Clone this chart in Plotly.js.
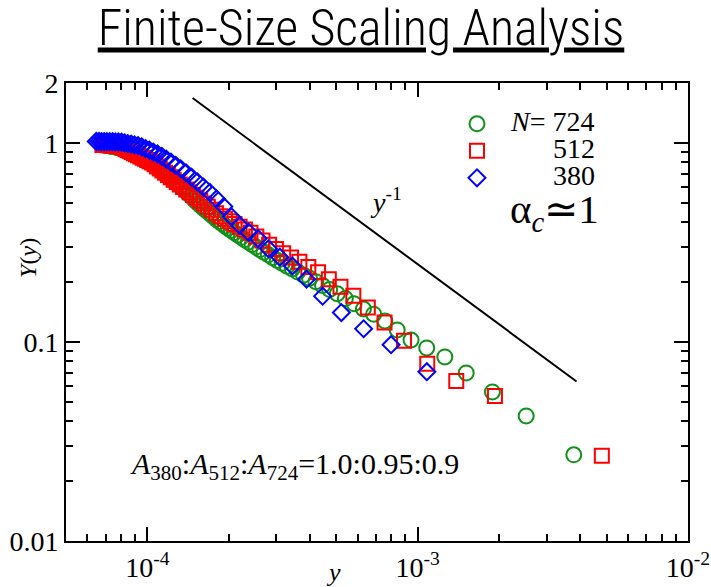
<!DOCTYPE html>
<html>
<head>
<meta charset="utf-8">
<script src="https://cdn.plot.ly/plotly-3.0.1.min.js"></script>
<style>html,body{margin:0;padding:0;background:#fff;}#chart{width:711px;height:587px;}</style>
</head>
<body>
<div id="chart"></div>
<script>
// N = 724 (green circles)
const greenX = [3.78e-3, 2.52e-3, 1.89e-3, 1.512e-3, 1.26e-3, 1.08e-3, 9.45e-4, 8.40e-4, 7.56e-4, 6.873e-4,
  6.30e-4, 5.815e-4, 5.40e-4, 5.04e-4, 4.725e-4, 4.447e-4, 4.20e-4, 3.979e-4, 3.78e-4, 3.60e-4,
  3.436e-4, 3.287e-4, 3.15e-4, 3.024e-4, 2.908e-4, 2.80e-4, 2.70e-4, 2.607e-4, 2.52e-4, 2.439e-4,
  2.363e-4, 2.291e-4, 2.224e-4, 2.16e-4, 2.10e-4, 2.043e-4, 1.989e-4, 1.938e-4, 1.89e-4, 1.844e-4,
  1.80e-4, 1.758e-4, 1.718e-4, 1.680e-4, 1.643e-4, 1.609e-4, 1.575e-4, 1.543e-4, 1.512e-4, 1.482e-4,
  1.454e-4, 1.426e-4, 1.40e-4, 1.375e-4, 1.35e-4, 1.326e-4, 1.303e-4, 1.281e-4, 1.26e-4, 1.239e-4,
  1.219e-4, 1.200e-4, 1.181e-4, 1.163e-4, 1.145e-4, 1.128e-4, 1.112e-4, 1.096e-4, 1.08e-4, 1.065e-4,
  1.050e-4, 1.036e-4, 1.022e-4, 1.008e-4, 9.95e-5, 9.82e-5, 9.69e-5, 9.57e-5, 9.45e-5, 9.33e-5,
  9.22e-5, 9.11e-5, 9.00e-5, 8.89e-5, 8.79e-5, 8.69e-5, 8.59e-5, 8.49e-5, 8.40e-5, 8.31e-5,
  8.22e-5, 8.13e-5, 8.04e-5, 7.96e-5, 7.875e-5, 7.79e-5, 7.71e-5, 7.64e-5, 7.56e-5, 7.49e-5,
  7.41e-5, 7.34e-5, 7.27e-5, 7.20e-5, 7.13e-5, 7.07e-5, 7.00e-5, 6.94e-5];
const greenY = [0.0271, 0.0425, 0.0561, 0.0699, 0.0841, 0.0933, 0.1023, 0.1149, 0.1275, 0.1379,
  0.1464, 0.1556, 0.1652, 0.1747, 0.1836, 0.1922, 0.2009, 0.2090, 0.2169, 0.2245,
  0.2327, 0.2403, 0.2483, 0.2565, 0.2653, 0.2740, 0.2827, 0.2913, 0.2998, 0.3086,
  0.3177, 0.3266, 0.3354, 0.3444, 0.3533, 0.3634, 0.3731, 0.3827, 0.3926, 0.4027,
  0.4141, 0.4257, 0.4372, 0.4485, 0.4601, 0.4715, 0.4830, 0.4966, 0.5099, 0.5245,
  0.5377, 0.5524, 0.5667, 0.5805, 0.5955, 0.6102, 0.6230, 0.6353, 0.6480, 0.6601,
  0.6723, 0.6850, 0.6985, 0.7109, 0.7234, 0.7367, 0.7489, 0.7585, 0.7681, 0.7781,
  0.7880, 0.7980, 0.8073, 0.8176, 0.8263, 0.8358, 0.8454, 0.8544, 0.8643, 0.8723,
  0.8773, 0.8823, 0.8875, 0.8928, 0.8982, 0.9023, 0.9074, 0.9127, 0.9170, 0.9222,
  0.9276, 0.9318, 0.9363, 0.9417, 0.9449, 0.9482, 0.9504, 0.9526, 0.9559, 0.9581,
  0.9603, 0.9636, 0.9659, 0.9681, 0.9714, 0.9737, 0.9759, 0.9770];

// N = 512 (red squares)
const redX = [4.80e-3, 1.931e-3, 1.389e-3, 1.085e-3, 8.90e-4, 7.54e-4, 6.54e-4, 5.78e-4, 5.18e-4, 4.69e-4,
  4.28e-4, 3.94e-4, 3.65e-4, 3.40e-4, 3.18e-4, 2.99e-4, 2.82e-4, 2.667e-4, 2.53e-4, 2.407e-4,
  2.296e-4, 2.194e-4, 2.101e-4, 2.015e-4, 1.936e-4, 1.864e-4, 1.796e-4, 1.733e-4, 1.674e-4, 1.620e-4,
  1.568e-4, 1.520e-4, 1.475e-4, 1.432e-4, 1.392e-4, 1.354e-4, 1.318e-4, 1.284e-4, 1.251e-4, 1.220e-4,
  1.191e-4, 1.163e-4, 1.136e-4, 1.111e-4, 1.086e-4, 1.063e-4, 1.041e-4, 1.019e-4, 9.99e-5, 9.79e-5,
  9.60e-5, 9.42e-5, 9.24e-5, 9.07e-5, 8.91e-5, 8.75e-5, 8.60e-5, 8.45e-5, 8.31e-5, 8.17e-5,
  8.04e-5, 7.91e-5, 7.79e-5, 7.67e-5, 7.55e-5, 7.44e-5, 7.33e-5, 7.22e-5, 7.12e-5, 7.02e-5,
  6.92e-5, 6.82e-5];
const redY = [0.0268, 0.0535, 0.0636, 0.0778, 0.1014, 0.1254, 0.1491, 0.1705, 0.1894, 0.2066,
  0.2237, 0.2380, 0.2526, 0.2659, 0.2794, 0.2933, 0.3079, 0.3236, 0.3390, 0.3541,
  0.3675, 0.3797, 0.3917, 0.4036, 0.4154, 0.4277, 0.4438, 0.4611, 0.4785, 0.4960,
  0.5129, 0.5303, 0.5479, 0.5652, 0.5832, 0.6004, 0.6187, 0.6361, 0.6540, 0.6723,
  0.6898, 0.7075, 0.7268, 0.7436, 0.7620, 0.7808, 0.7970, 0.8092, 0.8205, 0.8320,
  0.8435, 0.8545, 0.8663, 0.8773, 0.8886, 0.9000, 0.9106, 0.9222, 0.9329, 0.9438,
  0.9530, 0.9610, 0.9650, 0.9681, 0.9692, 0.9703, 0.9714, 0.9726, 0.9737, 0.9748,
  0.9759, 0.9770];

// N = 380 (blue diamonds)
const blueX = [1.081e-3, 7.97e-4, 6.31e-4, 5.22e-4, 4.45e-4, 3.88e-4, 3.44e-4, 3.09e-4, 2.805e-4, 2.567e-4,
  2.367e-4, 2.195e-4, 2.047e-4, 1.918e-4, 1.803e-4, 1.702e-4, 1.612e-4, 1.530e-4, 1.457e-4, 1.390e-4,
  1.329e-4, 1.273e-4, 1.222e-4, 1.174e-4, 1.131e-4, 1.090e-4, 1.052e-4, 1.017e-4, 9.84e-5, 9.53e-5,
  9.24e-5, 8.96e-5, 8.71e-5, 8.46e-5, 8.23e-5, 8.02e-5, 7.81e-5, 7.61e-5, 7.43e-5, 7.25e-5,
  7.08e-5, 6.92e-5, 6.76e-5, 6.62e-5, 6.47e-5];
const blueY = [0.0709, 0.0969, 0.1165, 0.1405, 0.1699, 0.2066, 0.2408, 0.2665, 0.2940, 0.3309,
  0.3562, 0.3858, 0.4251, 0.4791, 0.5233, 0.5641, 0.6004, 0.6376, 0.6731, 0.7075,
  0.7418, 0.7717, 0.7999, 0.8291, 0.8563, 0.8805, 0.9000, 0.9190, 0.9373, 0.9559,
  0.9692, 0.9783, 0.9851, 0.9931, 1.001, 1.008, 1.012, 1.013, 1.014, 1.015,
  1.015, 1.016, 1.016, 1.017, 1.017];

// guide line y^-1
const guideX = [1.47e-4, 3.87e-3];
const guideY = [1.68, 0.0633];

const seriesNames = ['<i>N</i>= 724', '512', '380'];
const seriesColors = ['#11911a', '#ff0000', '#0000ff'];
const xTickVals = [1e-4, 1e-3, 1e-2];
const xTickText = ['10<sup>-4</sup>', '10<sup>-3</sup>', '10<sup>-2</sup>'];
const yTickVals = [0.01, 0.1, 1, 2];
const yTickText = ['0.01', '0.1', '1', '2'];

const SERIF = "'Liberation Serif', 'Times New Roman', Times, serif";
const NARROW = "'Roboto Condensed', 'DejaVu Sans Condensed', sans-serif";
const NB = '\u00A0';
function legendName(s, pad) {
  return '<span style="font-size:28px">' + NB.repeat(pad) + s + '</span>';
}

const traces = [
  {x: guideX, y: guideY, type: 'scatter', mode: 'lines', line: {color: '#000', width: 2}, showlegend: false, hoverinfo: 'skip'},
  {x: greenX, y: greenY, type: 'scatter', mode: 'markers', name: legendName(seriesNames[0], 2),
   marker: {symbol: 'circle-open', size: 15, color: seriesColors[0], line: {width: 2, color: seriesColors[0]}}},
  {x: redX, y: redY, type: 'scatter', mode: 'markers', name: legendName(seriesNames[1], 8),
   marker: {symbol: 'square-open', size: 14, color: seriesColors[1], line: {width: 2, color: seriesColors[1]}}},
  {x: blueX, y: blueY, type: 'scatter', mode: 'markers', name: legendName(seriesNames[2], 8),
   marker: {symbol: 'diamond-open', size: 13, color: seriesColors[2], line: {width: 2, color: seriesColors[2]}}}
];

const axisCommon = {
  type: 'log', showline: true, linecolor: '#000', linewidth: 2, mirror: 'ticks',
  ticks: 'inside', ticklen: 14, tickwidth: 2, tickcolor: '#000', showgrid: false, zeroline: false,
  tickmode: 'array', tickfont: {family: SERIF, size: 28, color: '#000'},
  minor: {ticks: 'inside', ticklen: 7, tickwidth: 2, tickcolor: '#000', dtick: 'D1', showgrid: false}
};

const layout = {
  width: 711, height: 587,
  margin: {l: 66, r: 23, t: 83, b: 46},
  paper_bgcolor: '#fff', plot_bgcolor: '#fff',
  font: {family: SERIF, color: '#000'},
  title: {text: '<u>Finite-Size Scaling Analysis</u>', font: {family: NARROW, size: 50, weight: 300, color: '#000'},
          x: 361 / 711, xref: 'container', xanchor: 'center', y: 1 - 27 / 587, yref: 'container', yanchor: 'middle'},
  xaxis: Object.assign({}, axisCommon, {
    range: [Math.log10(5e-5), -2], tickvals: xTickVals, ticktext: xTickText
  }),
  yaxis: Object.assign({}, axisCommon, {
    range: [-2, Math.log10(2)], tickvals: yTickVals, ticktext: yTickText
  }),
  showlegend: true,
  legend: {x: 0.6286, y: 0.9515, xanchor: 'left', yanchor: 'top', font: {family: SERIF, size: 18.5, color: '#000'},
           bgcolor: 'rgba(0,0,0,0)', borderwidth: 0, tracegroupgap: 0},
  annotations: [
    {text: '<i>y</i>', xref: 'paper', yref: 'paper', x: 0.4293, y: -0.0677, xanchor: 'center', yanchor: 'middle',
     showarrow: false, font: {family: SERIF, size: 26, color: '#000'}},
    {text: '<i>Y</i>(<i>y</i>)', xref: 'paper', yref: 'paper', x: -0.0612, y: 0.618, xanchor: 'center', yanchor: 'middle',
     textangle: -90, showarrow: false, font: {family: SERIF, size: 24, color: '#000'}},
    {text: '<i>y</i><sup>-1</sup>', xref: 'paper', yref: 'paper', x: 0.5145, y: 0.7445, xanchor: 'center', yanchor: 'middle',
     showarrow: false, font: {family: SERIF, size: 28, color: '#000'}},
    {text: '\u03b1<sub><i>c</i></sub>\u2243<span>1</span>', xref: 'paper', yref: 'paper', x: 0.786, y: 0.718, xanchor: 'center', yanchor: 'middle',
     showarrow: false, font: {family: SERIF, size: 41, color: '#000'}},
    {text: '<i>A</i><sub>380</sub>:<i>A</i><sub>512</sub>:<i>A</i><sub>724</sub>=1.0:0.95:0.9', xref: 'paper', yref: 'paper',
     x: 0.3666, y: 0.1638, xanchor: 'center', yanchor: 'middle', showarrow: false, font: {family: SERIF, size: 30, color: '#000'}}
  ]
};

Plotly.newPlot('chart', traces, layout, {displayModeBar: false, staticPlot: true});
</script>
</body>
</html>
